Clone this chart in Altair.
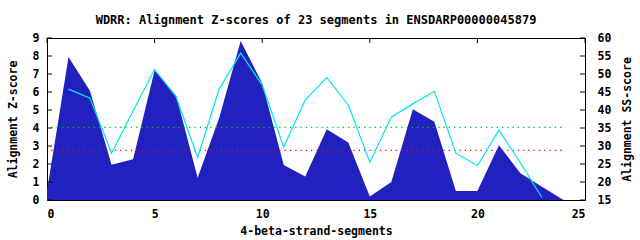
import altair as alt
import pandas as pd

# ---- data ----
segments = list(range(0, 25))
z_scores = [0.5, 7.94, 6.05, 1.96, 2.26, 7.19, 5.8, 1.24, 4.55, 8.83,
            6.48, 1.94, 1.30, 3.93, 3.19, 0.19, 1.0, 5.04, 4.35, 0.5,
            0.5, 3.04, 1.48, 0.74, 0.0]

ss_segments = list(range(1, 24))
ss_scores = [45.8, 43.3, 28.0, 39.7, 51.3, 43.7, 26.8, 45.8, 55.8, 47.0,
             29.7, 42.8, 49.0, 41.4, 25.5, 38.0, 41.7, 45.2, 28.0, 24.5,
             34.4, 25.3, 15.7]

threshold_names = ["green", "red"]
threshold_values = [4.04, 2.76]
threshold_colors = ["#00c000", "#ff0000"]
threshold_start = [0.2, 0.2]
threshold_end = [24.0, 24.0]

x_ticks = [0, 5, 10, 15, 20, 25]
z_ticks = list(range(0, 10))
ss_ticks = list(range(15, 61, 5))

W, H = 538, 162
FONT = "DejaVu Sans Mono"

z_df = pd.DataFrame({"seg": segments, "z": z_scores})
ss_df = pd.DataFrame({"seg": ss_segments, "ss": ss_scores})
thr_df = pd.DataFrame({"name": threshold_names, "v": threshold_values,
                       "c": threshold_colors, "x0": threshold_start,
                       "x1": threshold_end})
xt_df = pd.DataFrame({"t": x_ticks})
zt_df = pd.DataFrame({"t": z_ticks})
st_df = pd.DataFrame({"t": ss_ticks})

xscale = alt.Scale(domain=[0, 25], nice=False, zero=False)
zscale = alt.Scale(domain=[0, 9], nice=False)
sscale = alt.Scale(domain=[15, 60], nice=False, zero=False)

common = dict(grid=False, ticks=False, domain=False,
              labelFont=FONT, labelFontSize=11.5, labelFontWeight="bold",
              labelColor="black", titleFont=FONT, titleFontSize=11.5,
              titleFontWeight="bold", titleColor="black", format="d")

xaxis = alt.Axis(values=x_ticks, title="4-beta-strand-segments",
                 labelPadding=8, titlePadding=6, **common)
zaxis = alt.Axis(values=z_ticks, title="Alignment Z-score",
                 labelPadding=8, titleAngle=270, titleX=-34, titleY=H / 2,
                 titleAlign="center", titleBaseline="middle", **common)
saxis = alt.Axis(values=ss_ticks, title="Alignment SS-score",
                 labelPadding=12, titleAngle=270, titleX=42, titleY=H / 2,
                 titleAlign="center", titleBaseline="middle",
                 orient="right", **common)

area = alt.Chart(z_df).mark_area(color="#2121bf", opacity=1).encode(
    x=alt.X("seg:Q", scale=xscale, axis=xaxis),
    y=alt.Y("z:Q", scale=zscale, axis=zaxis),
)

thr = alt.Chart(thr_df).mark_rule(strokeDash=[1.3, 4], strokeWidth=1.3).encode(
    x=alt.X("x0:Q", scale=xscale, axis=xaxis),
    x2="x1:Q",
    y=alt.Y("v:Q", scale=zscale, axis=zaxis),
    color=alt.Color("c:N", scale=None),
)

left_ticks = alt.Chart(zt_df).mark_rule(color="black").encode(
    x=alt.value(0), x2=alt.value(5),
    y=alt.Y("t:Q", scale=zscale, axis=zaxis),
)

top_ticks = alt.Chart(xt_df).mark_rule(color="black").encode(
    y=alt.value(0), y2=alt.value(5),
    x=alt.X("t:Q", scale=xscale, axis=xaxis),
)

left = alt.layer(area, thr, left_ticks, top_ticks)

line = alt.Chart(ss_df).mark_line(color="#00e8e8", strokeWidth=1.2).encode(
    x=alt.X("seg:Q", scale=xscale, axis=xaxis),
    y=alt.Y("ss:Q", scale=sscale, axis=saxis),
)

right_ticks = alt.Chart(st_df).mark_rule(color="black").encode(
    x=alt.value(W - 5), x2=alt.value(W),
    y=alt.Y("t:Q", scale=sscale, axis=saxis),
)

right = alt.layer(line, right_ticks)

chart = alt.layer(left, right).resolve_scale(y="independent").properties(
    width=W, height=H,
    title=alt.Title("WDRR: Alignment Z-scores of 23 segments in ENSDARP00000045879",
                    font=FONT, fontSize=12, fontWeight="bold", offset=5,
                    anchor="middle", color="black"),
    autosize=alt.AutoSizeParams(type="none"),
    padding={"left": 47, "top": 38, "right": 55, "bottom": 40},
    background="white",
).configure_view(stroke="black", strokeWidth=1)

chart.save("out.html", embed_options={"renderer": "svg", "actions": False})
